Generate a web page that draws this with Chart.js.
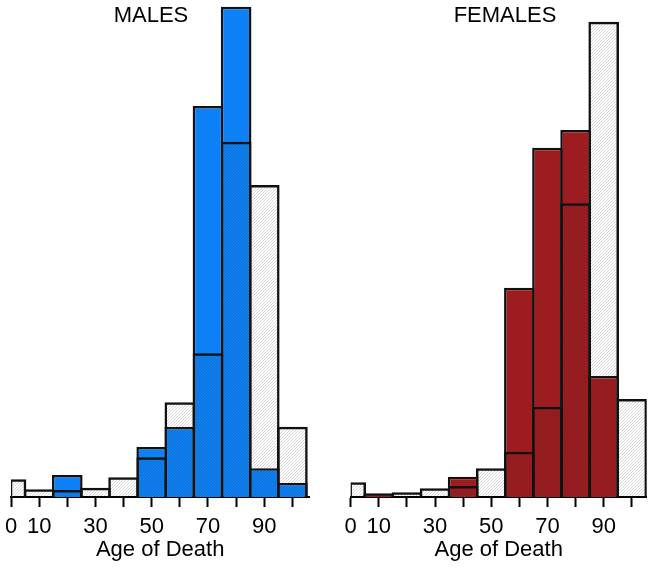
<!DOCTYPE html>
<html>
<head>
<meta charset="utf-8">
<script src="https://cdn.jsdelivr.net/npm/chart.js@4.4.1/dist/chart.umd.min.js"></script>
<style>
  html, body { margin: 0; padding: 0; background: #fff; }
  #wrap { position: relative; width: 654px; height: 570px; }
  .panel { position: absolute; top: 0; width: 327px; height: 570px; }
  .title { position: absolute; top: 4px; font: 22px 'Liberation Sans', Arial, sans-serif; line-height: 22px; color: #000; transform: translateX(-50%); white-space: nowrap; }
</style>
</head>
<body>
<div id="wrap">
  <div class="panel" style="left:0"><canvas id="males"></canvas></div>
  <div class="panel" style="left:327px"><canvas id="females"></canvas></div>
  <div class="title" style="left:151px">MALES</div>
  <div class="title" style="left:505px">FEMALES</div>
</div>
<script>
// bins: first one is the half bin 0-5, then 10-year bins centred on 10..100
const firstBin = 2.5;
const binCentres = [10, 20, 30, 40, 50, 60, 70, 80, 90, 100];
const tickValues = [0, 10, 20, 30, 40, 50, 60, 70, 80, 90, 100];
const tickLabels = ['0', '10', '', '30', '', '50', '', '70', '', '90', ''];

// percent of deaths per bin (index 0 = 0-5 bin)
const malesColour = [0, 0, 2.06, 0, 0, 4.68, 6.55, 36.58, 45.87, 2.69, 1.31];
const malesHatched = [1.66, 0.72, 0.65, 0.87, 1.84, 3.71, 8.86, 13.44, 33.24, 29.19, 6.58];
const femalesColour = [0, 0.35, 0, 0, 1.90, 0, 19.58, 32.68, 34.34, 11.32, 0];
const femalesHatched = [1.38, 0.25, 0.44, 0.81, 1.03, 2.69, 4.24, 8.45, 27.48, 44.47, 9.17];

const FONT = "'Liberation Sans', Arial, sans-serif";

function makeHatch(ctx) {
  const n = 3;
  const c = document.createElement('canvas');
  c.width = n;
  c.height = n;
  const g = c.getContext('2d');
  g.strokeStyle = 'rgba(40,40,40,0.22)';
  g.lineWidth = 0.9;
  g.beginPath();
  g.moveTo(-1, n + 1); g.lineTo(n + 1, -1);
  g.moveTo(-1, 1); g.lineTo(1, -1);
  g.moveTo(n - 1, n + 1); g.lineTo(n + 1, n - 1);
  g.stroke();
  return ctx.createPattern(c, 'repeat');
}

function makeChart(id, colour, colourValues, hatchedValues, xMax, padLeft, padRight) {
  const ctx = document.getElementById(id).getContext('2d');
  const hatch = makeHatch(ctx);
  const main = vals => binCentres.map((x, i) => ({ x, y: vals[i + 1] }));
  const first = vals => [{ x: firstBin, y: vals[0] }];
  const common = {
    borderColor: '#111',
    borderWidth: 2.5,
    grouped: false,
    categoryPercentage: 1
  };

  return new Chart(ctx, {
    type: 'bar',
    data: {
      datasets: [
        { ...common, data: main(hatchedValues), xAxisID: 'x', backgroundColor: hatch, order: 1, barPercentage: 1.089 },
        { ...common, data: first(hatchedValues), xAxisID: 'x2', backgroundColor: hatch, order: 1, barPercentage: 1.178 },
        { ...common, data: main(colourValues), xAxisID: 'x', backgroundColor: colour, order: 2, barPercentage: 1.089 },
        { ...common, data: first(colourValues), xAxisID: 'x2', backgroundColor: colour, order: 2, barPercentage: 1.178 }
      ]
    },
    options: {
      responsive: true,
      maintainAspectRatio: false,
      animation: false,
      layout: { padding: { left: padLeft, right: padRight, top: 0, bottom: 0 } },
      plugins: { legend: { display: false }, tooltip: { enabled: false } },
      scales: {
        x: {
          type: 'linear',
          min: 0,
          max: xMax,
          offset: false,
          afterBuildTicks: s => { s.ticks = tickValues.map(v => ({ value: v })); },
          ticks: {
            autoSkip: false,
            maxRotation: 0,
            padding: 4,
            color: '#000',
            font: { family: FONT, size: 22, lineHeight: 32 / 22 },
            callback: v => tickLabels[tickValues.indexOf(v)]
          },
          grid: { offset: false, drawOnChartArea: false, drawTicks: true, tickLength: 10, tickColor: '#000', tickWidth: 2 },
          border: { display: true, color: '#000', width: 2 },
          title: {
            display: true,
            text: 'Age of Death',
            color: '#000',
            font: { family: FONT, size: 22, lineHeight: 1 },
            padding: { top: -8, bottom: 9 }
          }
        },
        x2: {
          type: 'linear',
          min: 0,
          max: xMax,
          offset: false,
          display: false,
          grid: { offset: false },
          afterBuildTicks: s => { s.ticks = [{ value: 0 }, { value: 5 }]; }
        },
        y: { display: false, min: 0, max: 46.5 }
      }
    }
  });
}

makeChart('males', '#0c80f4', malesColour, malesHatched, 106, 11, 17.7);
makeChart('females', '#9d1c1f', femalesColour, femalesHatched, 105.3, 23.7, 7.3);
</script>
</body>
</html>
